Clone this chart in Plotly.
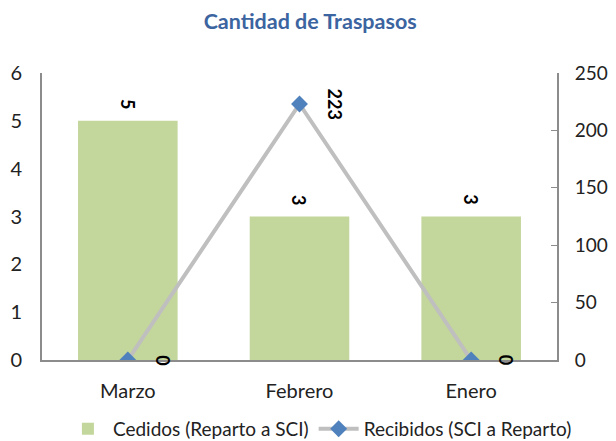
import plotly.graph_objects as go

categories = ["Marzo", "Febrero", "Enero"]
cedidos = [5, 3, 3]
recibidos = [0, 223, 0]
left_ticks = [0, 1, 2, 3, 4, 5, 6]
right_ticks = [0, 50, 100, 150, 200, 250]

FONT = "Lato, 'Open Sans', sans-serif"

fig = go.Figure()
fig.add_trace(go.Bar(
    x=categories, y=cedidos, name="Cedidos (Reparto a SCI)",
    marker=dict(color="#C3D69B", line=dict(width=0)),
    width=0.58, yaxis="y",
))
fig.add_trace(go.Scatter(
    x=categories, y=recibidos, name="Recibidos (SCI a Reparto)",
    mode="lines+markers",
    line=dict(color="#BFBFBF", width=4),
    marker=dict(symbol="diamond", size=13, color="#4F81BD"),
    yaxis="y2",
))

annotations = []
for c, v in zip(categories, cedidos):
    annotations.append(dict(
        x=c, y=v, xref="x", yref="y", text="<b>%d</b>" % v, showarrow=False,
        textangle=90, yshift=17, font=dict(family=FONT, size=18, color="black"),
    ))
for c, v in zip(categories, recibidos):
    annotations.append(dict(
        x=c, y=v, xref="x", yref="y2", text="<b>%d</b>" % v, showarrow=False,
        textangle=90, xshift=35, yshift=0,
        font=dict(family=FONT, size=18, color="black"),
    ))

fig.update_layout(
    width=608, height=433,
    margin=dict(l=34, r=59, t=65, b=81, autoexpand=False),
    paper_bgcolor="white", plot_bgcolor="white",
    font=dict(family=FONT, color="#222"),
    title=dict(text="<b>Cantidad de Traspasos</b>", x=0.497, xanchor="center",
               y=0.968, yanchor="middle",
               font=dict(family=FONT, size=21.5, color="#3B64A0")),
    xaxis=dict(showline=True, linecolor="#8C8C8C", linewidth=2,
               tickfont=dict(size=20, color="#222"), ticks="",
               showgrid=False, ticklabelstandoff=12),
    yaxis=dict(range=[0, 6], tickvals=left_ticks, showline=True,
               linecolor="#8C8C8C", linewidth=2, showgrid=False,
               zeroline=False, ticks="", ticklabelstandoff=14,
               tickfont=dict(size=20, color="#222")),
    yaxis2=dict(range=[0, 250], tickvals=right_ticks, overlaying="y",
                side="right", showline=True, linecolor="#8C8C8C",
                linewidth=2, showgrid=False, zeroline=False,
                ticks="inside", ticklen=6, tickcolor="#8C8C8C",
                ticklabelstandoff=12,
                tickfont=dict(size=19, color="#222")),
    legend=dict(orientation="h", xref="container", x=0.513, xanchor="center",
                yref="container", y=0.028, yanchor="middle",
                font=dict(size=19, color="#222"),
                itemwidth=40, traceorder="normal"),
    annotations=annotations,
    showlegend=True,
)

fig.write_html("out.html")
